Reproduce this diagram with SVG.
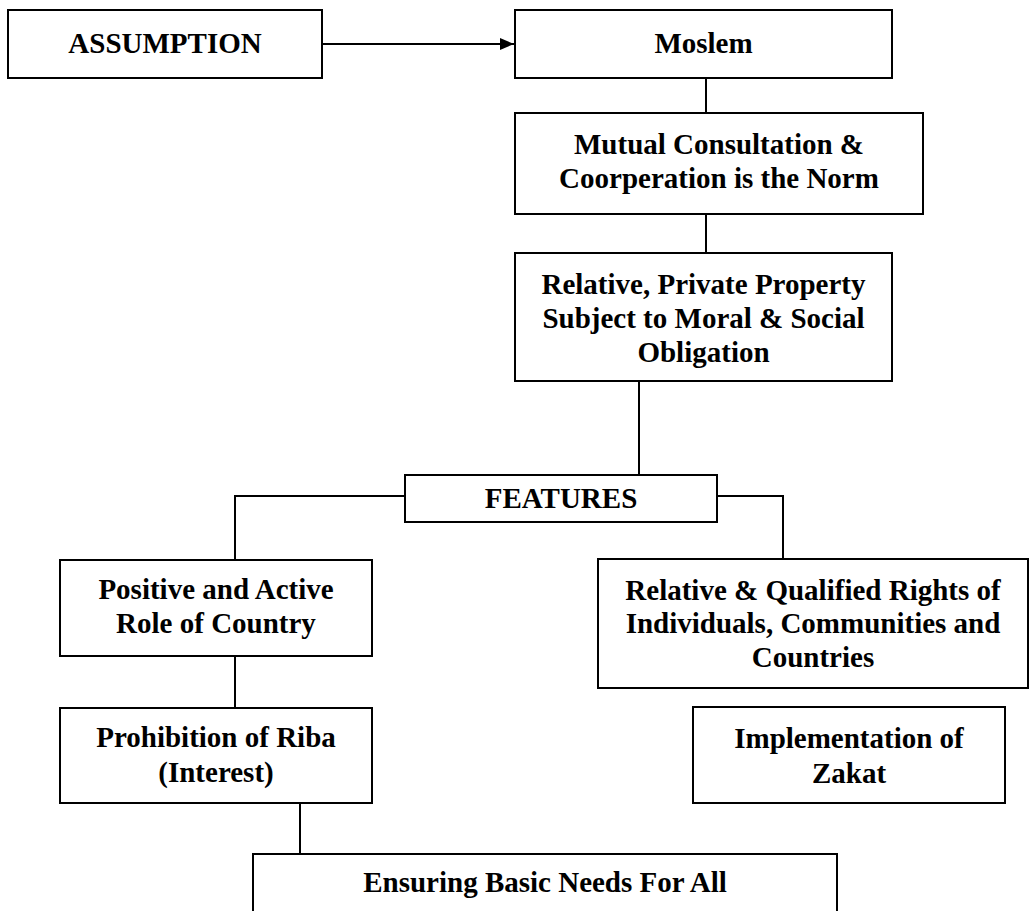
<svg xmlns="http://www.w3.org/2000/svg" width="1029" height="911" viewBox="0 0 1029 911">
<style>
.box{fill:#fff;stroke:#000;stroke-width:2}
.t{font-family:"Liberation Serif","Times New Roman",serif;font-weight:bold;font-size:29px;fill:#000;text-anchor:middle}
.c{fill:none;stroke:#000;stroke-width:2}
</style>
<defs>
<marker id="arr" markerWidth="14" markerHeight="12" refX="14" refY="6" orient="auto" markerUnits="userSpaceOnUse">
<path d="M0,0 L14,6 L0,12 Z" fill="#000"/>
</marker>
</defs>
<rect width="1029" height="911" fill="#fff"/>
<g id="connectors">
<line class="c" x1="322" y1="44" x2="514" y2="44" marker-end="url(#arr)"/>
<line class="c" x1="706" y1="78" x2="706" y2="113"/>
<line class="c" x1="706" y1="214" x2="706" y2="253"/>
<line class="c" x1="639" y1="381" x2="639" y2="475"/>
<polyline class="c" points="405,496 235,496 235,560"/>
<polyline class="c" points="717,496 783,496 783,559"/>
<line class="c" x1="235" y1="656" x2="235" y2="708"/>
<line class="c" x1="300" y1="803" x2="300" y2="854"/>
</g>
<g id="assumption">
<rect class="box" x="8" y="10" width="314" height="68"/>
<text class="t" x="165" y="53">ASSUMPTION</text>
</g>
<g id="moslem">
<rect class="box" x="515" y="10" width="377" height="68"/>
<text class="t" x="703.5" y="53">Moslem</text>
</g>
<g id="mutual">
<rect class="box" x="515" y="113" width="408" height="101"/>
<text class="t" x="719" y="154">Mutual Consultation &amp;</text>
<text class="t" x="719" y="188">Coorperation is the Norm</text>
</g>
<g id="relative">
<rect class="box" x="515" y="253" width="377" height="128"/>
<text class="t" x="703.5" y="294">Relative, Private Property</text>
<text class="t" x="703.5" y="328">Subject to Moral &amp; Social</text>
<text class="t" x="703.5" y="362">Obligation</text>
</g>
<g id="features">
<rect class="box" x="405" y="475" width="312" height="47"/>
<text class="t" x="561" y="508">FEATURES</text>
</g>
<g id="positive">
<rect class="box" x="60" y="560" width="312" height="96"/>
<text class="t" x="216" y="599">Positive and Active</text>
<text class="t" x="216" y="633">Role of Country</text>
</g>
<g id="prohibition">
<rect class="box" x="60" y="708" width="312" height="95"/>
<text class="t" x="216" y="747">Prohibition of Riba</text>
<text class="t" x="216" y="782">(Interest)</text>
</g>
<g id="rights">
<rect class="box" x="598" y="559" width="430" height="129"/>
<text class="t" x="813" y="600">Relative &amp; Qualified Rights of</text>
<text class="t" x="813" y="633">Individuals, Communities and</text>
<text class="t" x="813" y="667">Countries</text>
</g>
<g id="zakat">
<rect class="box" x="693" y="707" width="312" height="96"/>
<text class="t" x="849" y="748">Implementation of</text>
<text class="t" x="849" y="783">Zakat</text>
</g>
<g id="ensuring">
<rect class="box" x="253" y="854" width="584" height="70"/>
<text class="t" x="545" y="892">Ensuring Basic Needs For All</text>
</g>
</svg>
